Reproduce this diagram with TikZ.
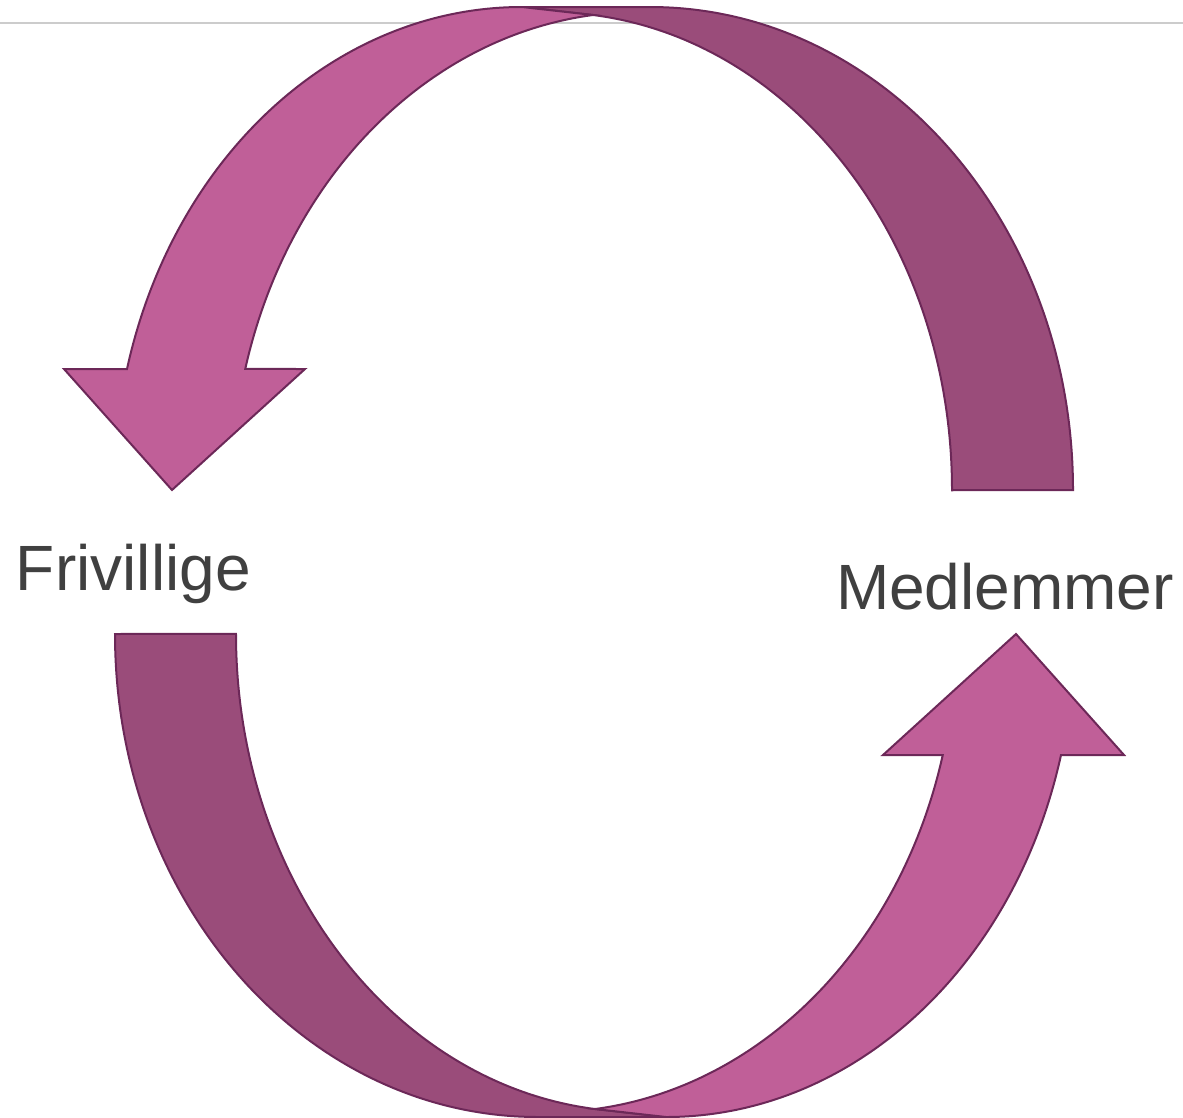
\documentclass[tikz,border=0pt]{standalone}
\usepackage{fontspec}
\setmainfont{Liberation Sans}
\definecolor{pinkband}{RGB}{192,95,152}
\definecolor{plumband}{RGB}{154,76,122}
\definecolor{bandedge}{RGB}{108,40,88}
\definecolor{labelgrey}{RGB}{64,64,64}

\begin{document}
\begin{tikzpicture}[x=1pt,y=-1pt,line width=2pt,
    every node/.style={text=labelgrey,font=\fontsize{64}{77}\selectfont,inner sep=0pt}]
  \useasboundingbox (0,0) rectangle (1183,1117);
  \draw[line width=2.5pt,black!20] (0,23) -- (1183,23);
  \foreach \turn in {0,180}{
    \begin{scope}[rotate around={\turn:(594,562)}]
      % back side of the ribbon
      \filldraw[fill=plumband,draw=bandedge] (1073,490)
        arc[start angle=0,end angle=-90,x radius=423,y radius=483]
        -- (522,7) -- (593,15)
        arc[start angle=-83.86,end angle=0,x radius=402,y radius=478] -- cycle;
      % front side with the head
      \filldraw[fill=pinkband,draw=bandedge] (127,369)
        arc[start angle=-165.49,end angle=-90,x radius=408,y radius=483]
        -- (593,15)
        arc[start angle=-96.49,end angle=-165.34,x radius=407,y radius=478]
        -- (305,369) -- (172,490) -- (64,369) -- cycle;
    \end{scope}}
  \node[anchor=base west] (friv) at (15,590) {Frivillige};
  \node[anchor=base west] (medl) at (835,609) {Medlemmer};
\end{tikzpicture}
\end{document}
